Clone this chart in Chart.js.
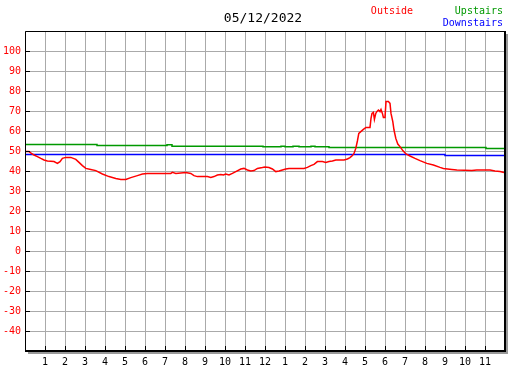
<!DOCTYPE html>
<html>
<head>
<meta charset="utf-8">
<script src="https://cdn.jsdelivr.net/npm/chart.js@4"></script>
<style>
html,body{margin:0;padding:0;background:#fff;}
canvas{display:block;}
</style>
</head>
<body>
<canvas id="c" width="527" height="370"></canvas>
<script>
const titleText = "05/12/2022";
const seriesNames = ["Outside", "Upstairs", "Downstairs"];
const seriesColors = ["#ff0000", "#009900", "#0000ff"];

const hourLabels = ["", "1","2","3","4","5","6","7","8","9","10","11","12","1","2","3","4","5","6","7","8","9","10","11",""];
const yTickMin = -40;
const yTickMax = 100;

const outsideHours = [0.00,0.20,0.32,0.45,0.62,0.79,0.95,1.12,1.45,1.62,1.75,1.87,2.04,2.29,2.54,2.70,2.87,3.04,3.29,3.54,3.87,4.20,4.54,4.79,5.04,5.29,5.62,5.87,6.12,7.29,7.37,7.54,8.04,8.29,8.45,8.62,9.12,9.29,9.45,9.62,9.79,9.92,10.04,10.20,10.37,10.54,10.79,10.95,11.12,11.29,11.45,11.62,11.87,12.00,12.20,12.37,12.54,12.70,12.87,13.04,13.20,13.95,14.12,14.29,14.45,14.62,14.87,15.04,15.20,15.37,15.54,15.95,16.12,16.25,16.37,16.45,16.54,16.62,16.69,16.79,16.92,17.05,17.25,17.30,17.35,17.42,17.47,17.54,17.59,17.67,17.75,17.80,17.87,17.92,18.00,18.05,18.17,18.25,18.30,18.39,18.45,18.54,18.64,18.75,18.89,19.05,19.25,19.50,19.75,20.09,20.42,20.75,20.92,21.34,21.59,22.34,22.59,23.25,23.50,23.75,23.95];
const outsideTemps = [49.7,49.7,48.8,48.0,47.2,46.3,45.5,45.0,44.7,43.8,44.7,46.3,46.8,46.8,45.8,44.3,42.7,41.3,40.8,40.2,38.5,37.2,36.3,35.8,35.8,36.7,37.7,38.5,38.8,38.8,39.3,38.8,39.3,38.8,37.7,37.2,37.2,36.8,37.2,38.0,38.3,38.0,38.5,38.0,38.8,39.7,41.0,41.3,40.5,40.0,40.2,41.3,41.7,42.0,41.7,41.0,39.7,40.0,40.5,41.0,41.3,41.3,41.8,42.7,43.3,44.7,44.7,44.3,44.7,45.0,45.5,45.5,46.0,46.7,47.7,48.8,51.3,55.0,58.8,59.7,60.8,61.8,61.8,66.3,68.8,69.3,65.8,68.8,69.7,70.5,69.7,70.8,68.8,66.8,66.8,74.7,74.7,73.8,68.8,64.7,60.5,56.3,53.5,52.2,50.2,48.5,47.5,46.3,45.2,43.8,43.0,41.8,41.3,40.8,40.5,40.2,40.5,40.5,40.0,39.7,39.2];

const upstairsHours = [0, 3.6, 7.1, 7.35, 11.9, 12.8, 13.0, 13.4, 13.7, 14.3, 14.5, 15.2, 23.05, 24];
const upstairsTemps = [53.3, 52.8, 53.1, 52.4, 52.1, 52.4, 52.1, 52.4, 52.1, 52.4, 52.1, 51.8, 51.2, 51.2];

const downstairsHours = [0, 21.0, 24];
const downstairsTemps = [48.3, 47.8, 47.8];

// each reading holds until the next reading time
function stepPts(xs, ys){
  const out = [];
  for (let i = 0; i < xs.length; i++) {
    if (i > 0) out.push({x: xs[i], y: ys[i-1]});
    out.push({x: xs[i], y: ys[i]});
  }
  return out;
}
function pts(xs, ys){ return xs.map((x,i)=>({x:x, y:ys[i]})); }

const FONT = "'DejaVu Sans Mono', 'Liberation Mono', monospace";

const framePlugin = {
  id: 'frame',
  afterDatasetsDraw(chart){
    const ctx = chart.ctx;
    const a = chart.chartArea;
    const xs = chart.scales.x, ys = chart.scales.y;
    ctx.save();
    ctx.fillStyle = '#999999';
    ctx.fillRect(a.left + 3, a.bottom + 1, a.right - a.left, 2);
    ctx.fillRect(a.right + 1, a.top + 3, 2, a.bottom - a.top);
    ctx.strokeStyle = '#000000';
    ctx.lineWidth = 1;
    ctx.beginPath();
    ctx.moveTo(a.left + 0.5, a.bottom);
    ctx.lineTo(a.left + 0.5, a.top + 0.5);
    ctx.lineTo(a.right, a.top + 0.5);
    ctx.stroke();
    ctx.lineWidth = 2;
    ctx.beginPath();
    ctx.moveTo(a.left, a.bottom);
    ctx.lineTo(a.right, a.bottom);
    ctx.lineTo(a.right, a.top);
    ctx.stroke();
    ctx.lineWidth = 1;
    ctx.beginPath();
    for (let h = 1; h < hourLabels.length - 1; h++) {
      const px = Math.round(xs.getPixelForValue(h)) + 0.5;
      ctx.moveTo(px, a.bottom);
      ctx.lineTo(px, a.bottom - 5);
    }
    for (let v = yTickMin; v <= yTickMax; v += 10) {
      const py = Math.round(ys.getPixelForValue(v)) + 0.5;
      ctx.moveTo(a.left, py);
      ctx.lineTo(a.left + 5, py);
    }
    ctx.stroke();
    ctx.textBaseline = 'middle';
    ctx.font = "13px " + FONT;
    ctx.fillStyle = '#000000';
    ctx.textAlign = 'center';
    ctx.fillText(titleText, 263, 19);
    ctx.font = "10px " + FONT;
    ctx.textAlign = 'right';
    ctx.fillStyle = seriesColors[0];
    ctx.fillText(seriesNames[0], 413, 11);
    ctx.fillStyle = seriesColors[1];
    ctx.fillText(seriesNames[1], 503, 11);
    ctx.fillStyle = seriesColors[2];
    ctx.fillText(seriesNames[2], 503, 23);
    ctx.restore();
  }
};

new Chart(document.getElementById('c'), {
  type: 'line',
  data: {
    datasets: [
      { label: seriesNames[0], data: pts(outsideHours, outsideTemps), borderColor: seriesColors[0], borderWidth: 1.5, pointRadius: 0, tension: 0, fill: false },
      { label: seriesNames[1], data: stepPts(upstairsHours, upstairsTemps), borderColor: seriesColors[1], borderWidth: 1.5, pointRadius: 0, tension: 0, fill: false },
      { label: seriesNames[2], data: stepPts(downstairsHours, downstairsTemps), borderColor: seriesColors[2], borderWidth: 1.5, pointRadius: 0, tension: 0, fill: false }
    ]
  },
  options: {
    responsive: false,
    animation: false,
    devicePixelRatio: 1,
    layout: { padding: { top: 31, right: 22, left: 0, bottom: 0 } },
    plugins: { legend: { display: false }, title: { display: false }, tooltip: { enabled: false } },
    scales: {
      x: {
        type: 'linear', min: 0, max: 24,
        afterFit(s){ s.height = 19; },
        grid: { color: '#aaaaaa', lineWidth: 1, drawTicks: false },
        border: { display: false },
        ticks: {
          stepSize: 1, autoSkip: false, maxRotation: 0, padding: 5,
          color: '#000000', font: { family: FONT, size: 10 },
          callback: (v) => hourLabels[v] !== undefined ? hourLabels[v] : ''
        }
      },
      y: {
        type: 'linear', min: -50, max: 110,
        afterFit(s){ s.width = 25; },
        grid: { color: '#aaaaaa', lineWidth: 1, drawTicks: false },
        border: { display: false },
        ticks: {
          stepSize: 10, autoSkip: false, padding: 4,
          color: '#ff0000', font: { family: FONT, size: 10 },
          callback: (v) => (v >= yTickMin && v <= yTickMax) ? String(v) : ''
        }
      }
    }
  },
  plugins: [framePlugin]
});
</script>
</body>
</html>
